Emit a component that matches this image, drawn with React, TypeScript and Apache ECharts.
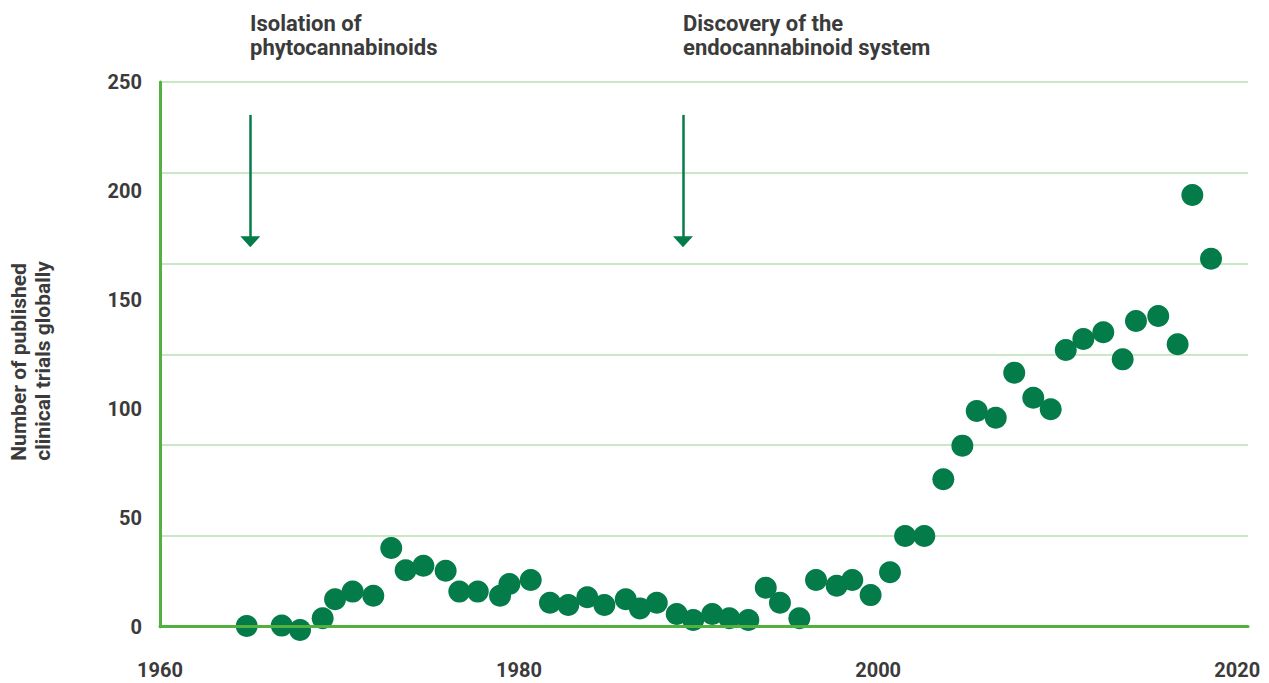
import React, { useEffect, useRef } from "react";
import * as echarts from "echarts";

const years = [
  1964.83, 1966.78, 1967.8, 1969.06, 1969.75, 1970.73, 1971.88, 1972.88, 1973.68, 1974.67,
  1975.91, 1976.67, 1977.7, 1978.94, 1979.46, 1980.65, 1981.72, 1982.74, 1983.8, 1984.75,
  1985.94, 1986.73, 1987.67, 1988.78, 1989.7, 1990.76, 1991.71, 1992.77, 1993.74, 1994.53,
  1995.61, 1996.54, 1997.69, 1998.56, 1999.58, 2000.66, 2001.5, 2002.57, 2003.63, 2004.69,
  2005.49, 2006.55, 2007.58, 2008.64, 2009.61, 2010.45, 2011.43, 2012.54, 2013.62, 2014.36,
  2015.6, 2016.68, 2017.5, 2018.54,
];
const trials = [
  0.3, 0.5, -1.5, 3.9, 12.6, 16.1, 14.2, 36.1, 25.9, 28.0,
  25.7, 16.1, 16.1, 14.2, 19.6, 21.4, 11.0, 10.0, 13.5, 10.0,
  12.6, 8.4, 11.0, 5.8, 3.1, 5.8, 3.9, 3.1, 17.9, 11.0,
  3.9, 21.4, 18.8, 21.4, 14.5, 25.0, 41.6, 41.6, 67.7, 83.1,
  99.0, 95.9, 116.6, 105.1, 99.8, 127.0, 132.0, 135.1, 122.7, 140.3,
  142.6, 129.6, 198.1, 168.9,
];
const xTickYears = [1960, 1980, 2000, 2020];
const yTicks = [0, 50, 100, 150, 200, 250];
const arrowYears = [1965.03, 1989.13];
const arrowFrom = 234.9;
const arrowTo = 176.7;
const annotations = ["Isolation of\nphytocannabinoids", "Discovery of the\nendocannabinoid system"];
const yTitle = "Number of published\nclinical trials globally";

const DOT = "#047c49";
const AXIS = "#52b041";
const GRID = "#cbe8c5";
const TEXT = "#3b3b3b";
const FONT = "Roboto";

export default function App() {
  const ref = useRef<HTMLDivElement>(null);
  useEffect(() => {
    document.body.style.margin = "0";
    if (!ref.current) return;
    const chart = echarts.init(ref.current, undefined, { renderer: "svg" });
    const points = years.map((y, i) => [y, trials[i]]);
    chart.setOption({
      animation: false,
      grid: { left: 160, top: 82, width: 1088, height: 544.7 },
      xAxis: {
        type: "value",
        min: 1960,
        max: 2020.6,
        interval: 20,
        z: 3,
        axisLine: { show: true, onZero: false, lineStyle: { color: AXIS, width: 3 } },
        axisTick: { show: false },
        splitLine: { show: false },
        axisLabel: {
          margin: 36,
          lineHeight: 14,
          fontFamily: FONT,
          fontWeight: "bold",
          fontSize: 20,
          color: TEXT,
          formatter: (v: number) => (xTickYears.includes(v) ? String(v) : ""),
        },
      },
      yAxis: [
        {
          type: "value",
          min: yTicks[0],
          max: yTicks[yTicks.length - 1],
          interval: 50,
          z: 3,
          axisLine: { show: true, lineStyle: { color: AXIS, width: 3 } },
          axisTick: { show: false },
          splitLine: { show: false },
          axisLabel: {
            margin: 18,
            fontFamily: FONT,
            fontWeight: "bold",
            fontSize: 20,
            color: TEXT,
          },
        },
        {
          type: "value",
          min: 0,
          max: 6,
          interval: 1,
          position: "left",
          z: 1,
          axisLine: { show: false },
          axisTick: { show: false },
          axisLabel: { show: false },
          splitLine: { show: true, lineStyle: { color: GRID, width: 2 } },
        },
      ],
      series: [
        {
          type: "scatter",
          data: points,
          symbolSize: 22,
          clip: false,
          itemStyle: { color: DOT, opacity: 1 },
          markLine: {
            silent: true,
            symbol: ["none", "triangle"],
            symbolSize: [20, 11],
            label: { show: false },
            lineStyle: { color: DOT, width: 2.5, type: "solid" },
            data: arrowYears.map((yr) => [
              { coord: [yr, arrowFrom] },
              { coord: [yr, arrowTo] },
            ]),
          },
        },
      ],
      graphic: [
        ...annotations.map((t, i) => ({
          type: "text",
          x: i === 0 ? 250 : 683,
          y: 12,
          style: {
            text: t,
            fontFamily: FONT,
            fontWeight: "bold",
            fontSize: 22,
            lineHeight: 23.5,
            fill: TEXT,
            textAlign: "left",
            textVerticalAlign: "top",
          },
        })),
        {
          type: "text",
          x: 31,
          y: 460.7,
          rotation: Math.PI / 2,
          style: {
            text: yTitle,
            fontFamily: FONT,
            fontWeight: "bold",
            fontSize: 21,
            lineHeight: 24,
            fill: TEXT,
            textAlign: "left",
            textVerticalAlign: "middle",
          },
        },
      ],
    });
    return () => chart.dispose();
  }, []);
  return <div ref={ref} style={{ width: 1269, height: 683 }} />;
}
